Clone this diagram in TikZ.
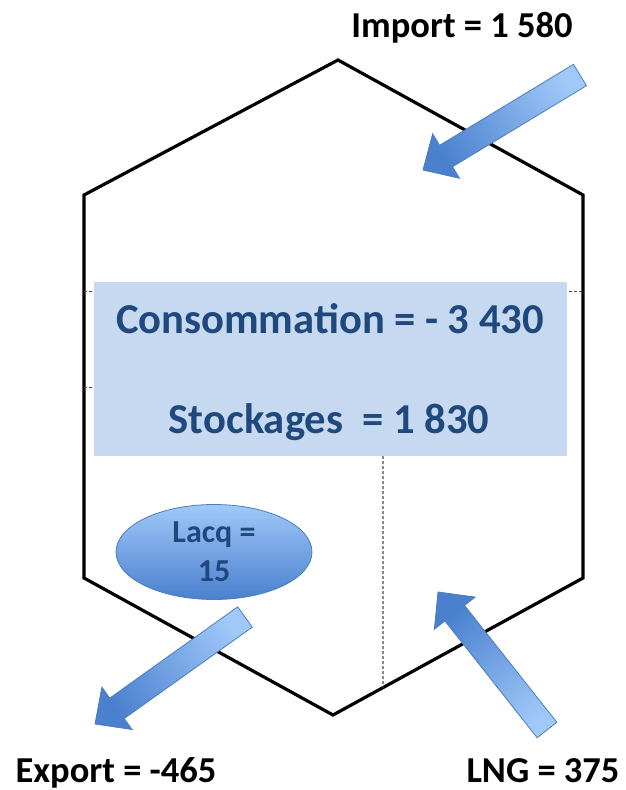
\documentclass[tikz,border=0pt]{standalone}
\usepackage{fontspec}
\setmainfont{Carlito}
\usetikzlibrary{calc,shapes.geometric}

\definecolor{boxblue}{HTML}{C6D9F1}
\definecolor{textblue}{HTML}{1F497D}
\definecolor{arrowdark}{HTML}{4A80CE}
\definecolor{arrowlight}{HTML}{A0C8F9}
\definecolor{arrowedge}{HTML}{4A7EBB}

\tikzset{
  hexline/.style={line width=3.2pt,line join=miter},
  tickline/.style={densely dashed,line width=1pt,black!70},
  flowlabel/.style={font=\fontsize{36.5}{42}\selectfont\bfseries,anchor=base,inner sep=0pt},
  bigtext/.style={font=\fontsize{42.6}{48}\selectfont\bfseries,text=textblue,anchor=base,inner sep=0pt},
  lacqnode/.style={ellipse,draw=arrowedge,line width=0.8pt,top color=arrowlight,bottom color=arrowdark,
    minimum width=196pt,minimum height=95pt,inner sep=0pt,align=center,
    font=\fontsize{32}{39}\selectfont\bfseries,text=textblue},
  blockarrow/.style={draw=arrowedge,line width=0.8pt,top color=arrowlight,bottom color=arrowdark}
}

% tail, tip, shading angle
\newcommand\flowarrow[3]{%
  \coordinate (hb) at ($(#2)!27pt!(#1)$);
  \shade[blockarrow,shading angle=#3]
    ($(#1)!12.5pt!90:(#2)$) -- ($(hb)!12.5pt!90:(#2)$) -- ($(hb)!26pt!90:(#2)$)
    -- (#2) -- ($(hb)!26pt!-90:(#2)$) -- ($(hb)!12.5pt!-90:(#2)$)
    -- ($(#1)!12.5pt!-90:(#2)$) -- cycle;
}

\begin{document}
\begin{tikzpicture}[x=1pt,y=-1pt]
\useasboundingbox (0,0) rectangle (626,790);

\coordinate (top) at (338,60);
\coordinate (upright) at (583,195);
\coordinate (lowright) at (583,578);
\coordinate (bottom) at (333,715);
\coordinate (lowleft) at (84,578);
\coordinate (upleft) at (84,195);
\draw[hexline] (top) -- (upright) -- (lowright) -- (bottom) -- (lowleft) -- (upleft) -- cycle;

\draw[tickline] (84,291) -- (583,291);
\draw[tickline] (84,387) -- (200,387);
\fill[boxblue] (94,282) rectangle (567,456);

\coordinate (split) at (383,456);
\coordinate (splitend) at ($(bottom)!0.2!(lowright)$);
\draw[tickline,line width=1.3pt] (split) -- (splitend);

\node[bigtext] (conso) at (330,333) {Consommation = - 3 430};
\node[bigtext] (stock) at (329,433) {Stockages \ = 1 830};

\node[lacqnode] (lacq) at (214,552) {Lacq =\\15};

\node[flowlabel] (import) at (462,37) {Import = 1 580};
\node[flowlabel] (export) at (116,782) {Export = -465};
\node[flowlabel] (lng) at (543,782) {LNG = 375};

\coordinate (importtail) at (580,75);
\coordinate (importtip) at (423,170);
\coordinate (exporttail) at (245,617);
\coordinate (exporttip) at (95,724);
\coordinate (lngtail) at (547,730);
\coordinate (lngtip) at (438,592);

\flowarrow{importtail}{importtip}{-59}
\flowarrow{exporttail}{exporttip}{-55}
\flowarrow{lngtail}{lngtip}{-142}
\end{tikzpicture}
\end{document}
